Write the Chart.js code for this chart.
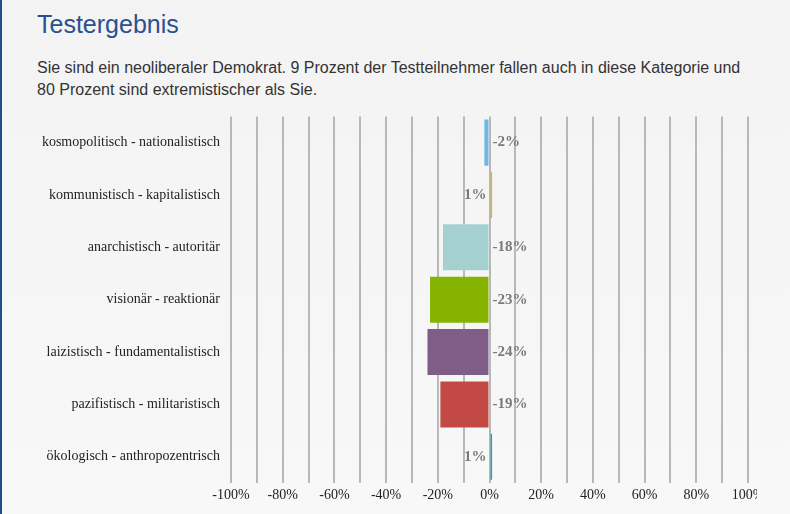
<!DOCTYPE html>
<html><head><meta charset="utf-8">
<script src="https://cdn.jsdelivr.net/npm/chart.js@4/dist/chart.umd.min.js"></script>
<style>
html,body{margin:0;padding:0;}
body{width:790px;height:514px;overflow:hidden;background:linear-gradient(#f3f3f3,#f8f8f8);position:relative;font-family:"Liberation Sans",Arial,sans-serif;}
#edge{position:absolute;left:0;top:0;width:2px;height:514px;background:#1d4f8f;}
#title{position:absolute;left:37px;top:8px;font-size:25px;color:#2a5090;line-height:32px;}
#sub{position:absolute;left:37px;top:57px;font-size:16px;color:#333;line-height:22px;width:740px;}
#wrap{position:absolute;left:0;top:97px;width:757px;height:417px;overflow:hidden;}
#c{position:absolute;left:0;top:0;}
</style></head><body>
<div id="edge"></div>
<div id="title">Testergebnis</div>
<div id="sub">Sie sind ein neoliberaler Demokrat. 9 Prozent der Testteilnehmer fallen auch in diese Kategorie und<br>80 Prozent sind extremistischer als Sie.</div>
<div id="wrap"><canvas id="c" width="790" height="417"></canvas></div>
<script>
const categories = ["kosmopolitisch - nationalistisch","kommunistisch - kapitalistisch","anarchistisch - autoritär","visionär - reaktionär","laizistisch - fundamentalistisch","pazifistisch - militaristisch","ökologisch - anthropozentrisch"];
const values = [-2, 1, -18, -23, -24, -19, 1];
const barColors = ["#6fb8e6","#c9b94a","#a5d0d0","#86b300","#7e5e86","#c34a44","#3a9bab"];
const tickMin = -100, tickMax = 100, tickStep = 10, labelStep = 20;

const valueLabels = {
  id:'valueLabels',
  afterDatasetsDraw(chart){
    const ctx = chart.ctx, xs = chart.scales.x;
    const meta = chart.getDatasetMeta(0);
    const zero = xs.getPixelForValue(0);
    ctx.save();
    ctx.font = 'bold 15px "Liberation Serif", "Times New Roman", serif';
    ctx.fillStyle = '#7a7a7a';
    ctx.textBaseline = 'middle';
    meta.data.forEach((bar,i)=>{
      const v = values[i];
      const t = v + '%';
      if (v < 0){ ctx.textAlign='left'; ctx.fillText(t, zero+3, bar.y); }
      else { ctx.textAlign='right'; ctx.fillText(t, zero-3, bar.y); }
    });
    ctx.restore();
  }
};

new Chart(document.getElementById('c'), {
  type:'bar',
  data:{labels:categories, datasets:[{data:values, backgroundColor:barColors, barPercentage:0.88, categoryPercentage:1}]},
  options:{
    indexAxis:'y', responsive:false, animation:false,
    layout:{padding:{top:3,right:42,bottom:0,left:0}},
    plugins:{legend:{display:false},tooltip:{enabled:false}},
    scales:{
      x:{min:tickMin,max:tickMax,
        ticks:{stepSize:tickStep,padding:4,maxRotation:0,minRotation:0,autoSkip:false,color:'#222',font:{family:'"Liberation Serif", "Times New Roman", serif',size:14},
          callback:(v)=> (v % labelStep === 0) ? v + '%' : ''},
        grid:{color:'#b8b8b8',lineWidth:2,drawTicks:false},
        border:{display:false},
        afterFit:(s)=>{s.height=31;}
      },
      y:{
        ticks:{padding:11,color:'#222',font:{family:'"Liberation Serif", "Times New Roman", serif',size:14}},
        grid:{display:false,drawTicks:false},
        border:{display:false},
        afterFit:(s)=>{s.width=231;}
      }
    }
  },
  plugins:[valueLabels]
});
</script>
</body></html>
